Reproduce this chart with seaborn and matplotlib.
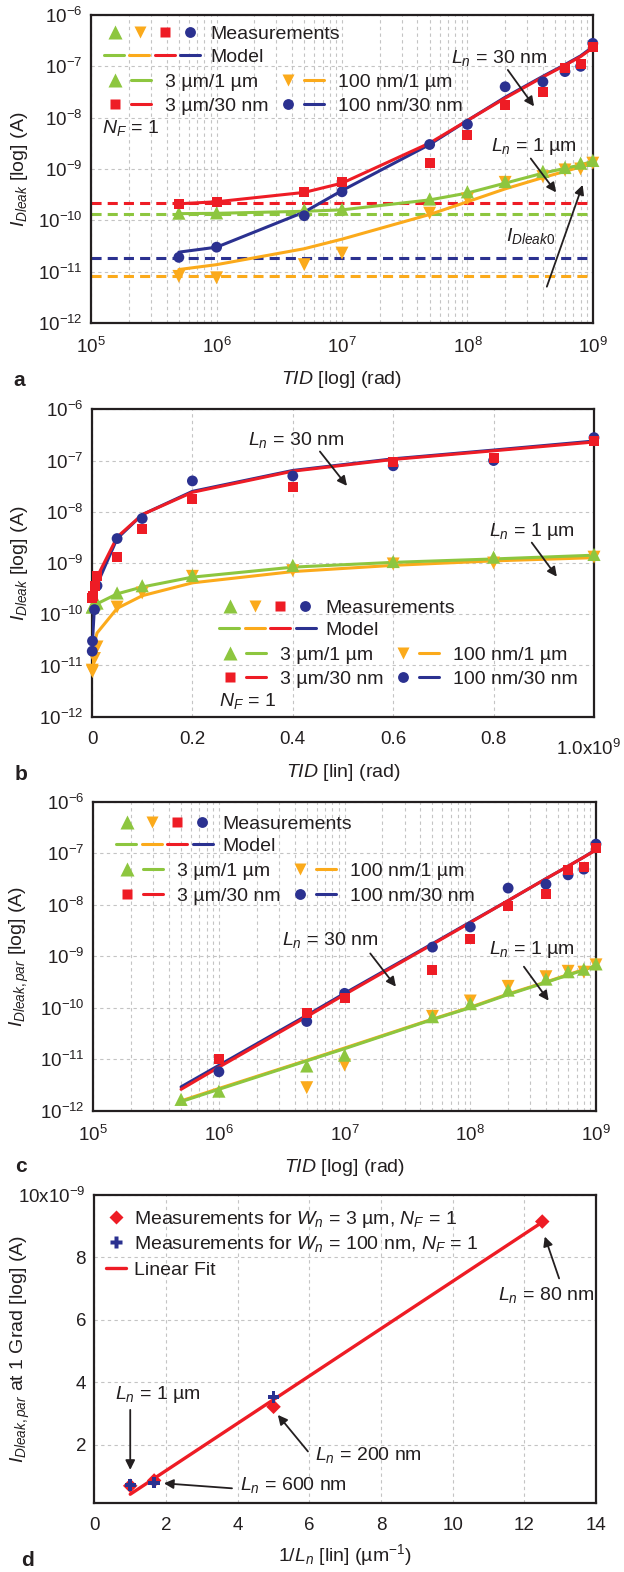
import numpy as np
import matplotlib
matplotlib.use("Agg")
import matplotlib.pyplot as plt
import seaborn as sns
from matplotlib.ticker import LogLocator, NullFormatter, NullLocator
from matplotlib.transforms import ScaledTranslation

# ---------------- data ----------------
tid = [5e5, 1e6, 5e6, 1e7, 5e7, 1e8, 2e8, 4e8, 6e8, 8e8, 1e9]

# panel a / b : I_Dleak measurements
meas_3u_1u = [1.38e-10, 1.4e-10, 1.6e-10, 1.65e-10, 2.6e-10, 3.6e-10, 5.7e-10, 9.0e-10, 1.07e-9, 1.3e-9, 1.47e-9]
meas_100n_1u = [8.1e-12, 7.6e-12, 1.37e-11, 2.3e-11, 1.38e-10, 2.6e-10, 5.5e-10, 7.1e-10, 9.6e-10, 1.0e-9, 1.3e-9]
meas_3u_30n = [2.1e-10, 2.3e-10, 3.6e-10, 5.5e-10, 1.3e-9, 4.6e-9, 1.8e-8, 3.1e-8, 9.2e-8, 1.1e-7, 2.4e-7]
meas_100n_30n = [1.9e-11, 3.0e-11, 1.23e-10, 3.6e-10, 3.0e-9, 7.4e-9, 4.0e-8, 5.0e-8, 7.9e-8, 1.0e-7, 2.8e-7]

# panel a / b : model
model_3u_1u = [1.35e-10, 1.37e-10, 1.5e-10, 1.6e-10, 2.5e-10, 3.4e-10, 5.3e-10, 8.3e-10, 1.03e-9, 1.2e-9, 1.42e-9]
model_100n_1u = [1.1e-11, 1.37e-11, 2.8e-11, 4.3e-11, 1.3e-10, 2.3e-10, 4.1e-10, 6.8e-10, 9.0e-10, 1.1e-9, 1.27e-9]
model_3u_30n = [2.1e-10, 2.3e-10, 3.5e-10, 5.3e-10, 3.2e-9, 8.8e-9, 2.4e-8, 6.2e-8, 1.05e-7, 1.55e-7, 2.3e-7]
model_100n_30n = [2.4e-11, 3.0e-11, 1.45e-10, 3.8e-10, 3.0e-9, 8.8e-9, 2.5e-8, 6.4e-8, 1.08e-7, 1.6e-7, 2.4e-7]

# I_Dleak0 levels
i0_3u_1u = 1.35e-10
i0_100n_1u = 8.3e-12
i0_3u_30n = 2.2e-10
i0_100n_30n = 1.85e-11

# panel c : I_Dleak,par
nan = np.nan
par_3u_1u = [1.66e-12, 2.4e-12, 7.4e-12, 1.2e-11, 6.7e-11, 1.2e-10, 2.2e-10, 3.6e-10, 5.0e-10, 5.6e-10, 7.1e-10]
par_100n_1u = [nan, nan, 2.8e-12, 7.7e-12, 6.8e-11, 1.35e-10, 2.6e-10, 4.0e-10, 5.1e-10, 4.9e-10, 6.8e-10]
par_3u_30n = [nan, 1.0e-11, 8.0e-11, 1.56e-10, 5.4e-10, 2.2e-9, 9.4e-9, 1.6e-8, 4.7e-8, 5.3e-8, 1.24e-7]
par_100n_30n = [nan, 5.7e-12, 5.4e-11, 1.9e-10, 1.5e-9, 3.7e-9, 2.1e-8, 2.5e-8, 3.8e-8, 4.9e-8, 1.5e-7]

par_model_3u_1u = [1.5e-12, 2.6e-12, 9.3e-12, 1.6e-11, 5.9e-11, 1.0e-10, 1.8e-10, 3.1e-10, 4.3e-10, 5.4e-10, 6.5e-10]
par_model_100n_1u = [1.55e-12, 2.7e-12, 9.5e-12, 1.65e-11, 6.0e-11, 1.02e-10, 1.85e-10, 3.15e-10, 4.4e-10, 5.5e-10, 6.6e-10]
par_model_3u_30n = [2.6e-12, 7.0e-12, 6.7e-11, 1.8e-10, 1.7e-9, 4.5e-9, 1.2e-8, 3.2e-8, 5.6e-8, 8.4e-8, 1.15e-7]
par_model_100n_30n = [2.9e-12, 7.6e-12, 7.1e-11, 1.9e-10, 1.75e-9, 4.6e-9, 1.2e-8, 3.2e-8, 5.6e-8, 8.4e-8, 1.18e-7]

# panel d
inv_L_3u = [1.0, 1.667, 5.0, 12.5]
d_meas_3u = [0.69e-9, 0.86e-9, 3.22e-9, 9.15e-9]
inv_L_100n = [1.0, 1.667, 5.0]
d_meas_100n = [0.72e-9, 0.79e-9, 3.53e-9]
fit_x = [1.0, 12.5]
fit_y = [0.42e-9, 9.13e-9]

series_labels = ["3 µm/1 µm", "100 nm/1 µm", "3 µm/30 nm", "100 nm/30 nm"]

# ---------------- style ----------------
sns.set_theme(style="white")
plt.rcParams.update({
    "font.family": ["Liberation Sans", "DejaVu Sans"],
    "mathtext.fontset": "custom",
    "mathtext.rm": "Liberation Sans",
    "mathtext.it": "Liberation Sans:italic",
    "mathtext.bf": "Liberation Sans:bold",
    "mathtext.sf": "Liberation Sans",
    "axes.unicode_minus": True,
})

GREEN = "#8DC63F"
ORANGE = "#FBAA1B"
RED = "#EE1C25"
BLUE = "#2B3190"
DARK = "#231F20"
GRID = "#C4C4C4"
FS = 14
TFS = 13.5
LW = 2.2

W, H = 624, 1572
fig = plt.figure(figsize=(W / 100, H / 100), dpi=100)


def add_ax(left, top, right, bottom):
    return fig.add_axes([left / W, 1 - bottom / H, (right - left) / W, (bottom - top) / H])


ax_a = add_ax(91.2, 15, 592.8, 323)
ax_b = add_ax(92, 409.3, 594, 716.7)
ax_c = add_ax(93.2, 801.7, 596, 1110.7)
ax_d = add_ax(94.4, 1195, 596, 1503.3)

ST_OR = (ORANGE, "v", 9.3)
ST_GR = (GREEN, "^", 9.5)
ST_BL = (BLUE, "o", 7.8)
ST_RD = (RED, "s", 7.2)
styles = [ST_OR, ST_GR, ST_BL, ST_RD]


def frame(ax):
    for s in ax.spines.values():
        s.set_visible(True)
        s.set_color(DARK)
        s.set_linewidth(1.6)
    ax.tick_params(which="both", length=0, labelsize=TFS, colors=DARK)
    ax.tick_params(axis="x", pad=10)
    ax.tick_params(axis="y", pad=6)


def plot_set(ax, meas_list, model_list):
    for (c, m, ms), model in zip(styles, model_list):
        sns.lineplot(x=tid, y=model, ax=ax, color=c, lw=LW, estimator=None,
                     sort=False, zorder=3)
    for (c, m, ms), meas in zip(styles, meas_list):
        sns.scatterplot(x=tid, y=meas, ax=ax, color=c, marker=m, s=ms ** 2,
                        edgecolor="none", linewidth=0, clip_on=False, zorder=5)


def draw_key(ax, x0, rows):
    """Legend key drawn in axes fraction; x0 first marker position, rows y fractions."""
    wpx = ax.get_position().width * W
    hpx = ax.get_position().height * H
    fx = lambda px: x0 + px / wpx
    base = 7.0 / hpx
    kw = dict(transform=ax.transAxes, clip_on=False, zorder=6)
    order = [ST_GR, ST_OR, ST_RD, ST_BL]
    y = rows[0]
    for (c, m, ms), off in zip(order, [0, 25, 50, 75]):
        ax.plot([fx(off)], [y], marker=m, ms=ms, color=c, mec="none", ls="none", **kw)
    ax.text(fx(95.5), y - base, "Measurements", fontsize=FS, color=DARK,
            ha="left", va="baseline", transform=ax.transAxes)
    y = rows[1]
    for (c, m, ms), cen in zip(order, [-1, 24.5, 50, 75.5]):
        ax.plot([fx(cen - 10), fx(cen + 10)], [y, y], color=c, lw=LW, **kw)
    ax.text(fx(95.5), y - base, "Model", fontsize=FS, color=DARK,
            ha="left", va="baseline", transform=ax.transAxes)
    grid = [(ST_GR, series_labels[0], 2, 0),
            (ST_OR, series_labels[1], 2, 173),
            (ST_RD, series_labels[2], 3, 0),
            (ST_BL, series_labels[3], 3, 173)]
    for (c, m, ms), lab, r, dx in grid:
        y = rows[r]
        ax.plot([fx(dx)], [y], marker=m, ms=ms, color=c, mec="none", ls="none", **kw)
        ax.plot([fx(dx + 16), fx(dx + 36)], [y, y], color=c, lw=LW, **kw)
        ax.text(fx(dx + 50), y - base, lab, fontsize=FS, color=DARK,
                ha="left", va="baseline", transform=ax.transAxes)


def arrow(ax, start, end):
    ax.annotate("", xy=end, xytext=start,
                arrowprops=dict(arrowstyle="-|>", color=DARK, lw=1.3,
                                mutation_scale=14, shrinkA=0, shrinkB=0),
                zorder=7)


def label(ax, x, y, s, **kw):
    ax.text(x, y, s, fontsize=FS, color=DARK, ha="center", va="center", zorder=7, **kw)


def setup_logy(ax):
    ax.set_yscale("log")
    ax.set_ylim(1e-12, 1e-6)
    ax.set_yticks([1e-12, 1e-11, 1e-10, 1e-9, 1e-8, 1e-7, 1e-6])
    ax.yaxis.set_minor_locator(NullLocator())
    ax.yaxis.set_minor_formatter(NullFormatter())


def setup_logx(ax):
    ax.set_xscale("log")
    ax.set_xlim(1e5, 1e9)
    ax.set_xticks([1e5, 1e6, 1e7, 1e8, 1e9])
    ax.xaxis.set_minor_locator(LogLocator(base=10, subs=np.arange(2, 10), numticks=20))
    ax.xaxis.set_minor_formatter(NullFormatter())


gkw = dict(color=GRID, linestyle=(0, (3, 3)), linewidth=0.8)

# ---------------- panel a ----------------
ax = ax_a
setup_logx(ax)
setup_logy(ax)
ax.grid(True, which="major", **gkw)
ax.grid(True, which="minor", axis="x", **gkw)
for lvl, c in zip([i0_100n_1u, i0_3u_1u, i0_100n_30n, i0_3u_30n], [ORANGE, GREEN, BLUE, RED]):
    ax.axhline(lvl, color=c, lw=LW, ls=(0, (3.3, 2.0)), zorder=2)
plot_set(ax, [meas_100n_1u, meas_3u_1u, meas_100n_30n, meas_3u_30n],
         [model_100n_1u, model_3u_1u, model_100n_30n, model_3u_30n])
ax.set_xlim(1e5, 1e9)
setup_logy(ax)
frame(ax)
draw_key(ax, 0.0474, [0.945, 0.871, 0.790, 0.711])
ax.text(0.0215, 0.640 - 7 / 308, "$N_F$ = 1", fontsize=FS, color=DARK, ha="left",
        va="baseline", transform=ax.transAxes)
label(ax, 1.8e8, 1.44e-7, "$L_n$ = 30 nm")
arrow(ax, (2.1e8, 8.5e-8), (3.4e8, 1.66e-8))
label(ax, 3.4e8, 2.75e-9, "$L_n$ = 1 µm")
arrow(ax, (3.2e8, 1.6e-9), (5.1e8, 3.5e-10))
label(ax, 3.2e8, 4.9e-11, "$I_{Dleak0}$")
arrow(ax, (4.3e8, 5.1e-12), (8.3e8, 4.9e-10))
ax.set_xlabel("$TID$ [log] (rad)", fontsize=FS, color=DARK)
ax.set_ylabel("$I_{Dleak}$ [log] (A)", fontsize=FS, color=DARK)

# ---------------- panel b ----------------
ax = ax_b
setup_logy(ax)
ax.grid(True, which="major", **gkw)
plot_set(ax, [meas_100n_1u, meas_3u_1u, meas_100n_30n, meas_3u_30n],
         [model_100n_1u, model_3u_1u, model_100n_30n, model_3u_30n])
ax.set_xlim(0, 1e9)
ax.set_xticks([0, 2e8, 4e8, 6e8, 8e8, 1e9])
ax.set_xticklabels(["0", "0.2", "0.4", "0.6", "0.8", "1.0x10$^9$"])
setup_logy(ax)
frame(ax)
tk = ax.xaxis.get_major_ticks()[-1]
tk.label1.set_transform(tk.label1.get_transform() +
                        ScaledTranslation(-0.05, -0.08, fig.dpi_scale_trans))
draw_key(ax, 0.275, [0.360, 0.289, 0.207, 0.129])
ax.text(0.253, 0.058 - 7 / 307.4, "$N_F$ = 1", fontsize=FS, color=DARK, ha="left",
        va="baseline", transform=ax.transAxes)
label(ax, 0.406e9, 2.5e-7, "$L_n$ = 30 nm")
arrow(ax, (0.454e9, 1.5e-7), (0.508e9, 3.2e-8))
label(ax, 0.876e9, 4.1e-9, "$L_n$ = 1 µm")
arrow(ax, (0.876e9, 2.5e-9), (0.926e9, 5.4e-10))
ax.set_xlabel("$TID$ [lin] (rad)", fontsize=FS, color=DARK)
ax.set_ylabel("$I_{Dleak}$ [log] (A)", fontsize=FS, color=DARK)

# ---------------- panel c ----------------
ax = ax_c
setup_logx(ax)
setup_logy(ax)
ax.grid(True, which="major", **gkw)
ax.grid(True, which="minor", axis="x", **gkw)
plot_set(ax, [par_100n_1u, par_3u_1u, par_100n_30n, par_3u_30n],
         [par_model_100n_1u, par_model_3u_1u, par_model_100n_30n, par_model_3u_30n])
ax.set_xlim(1e5, 1e9)
setup_logy(ax)
frame(ax)
draw_key(ax, 0.0676, [0.933, 0.862, 0.781, 0.701])
label(ax, 7.7e6, 2.06e-9, "$L_n$ = 30 nm")
arrow(ax, (1.6e7, 1.13e-9), (2.56e7, 2.56e-10))
label(ax, 3.1e8, 1.32e-9, "$L_n$ = 1 µm")
arrow(ax, (2.67e8, 6.25e-10), (4.2e8, 1.37e-10))
ax.set_xlabel("$TID$ [log] (rad)", fontsize=FS, color=DARK)
ax.set_ylabel("$I_{Dleak,par}$ [log] (A)", fontsize=FS, color=DARK)

# ---------------- panel d ----------------
ax = ax_d
ax.grid(True, which="major", **gkw)
sns.lineplot(x=fit_x, y=fit_y, ax=ax, color=RED, lw=2.4, estimator=None, sort=False, zorder=3)
sns.scatterplot(x=inv_L_3u, y=d_meas_3u, ax=ax, color=RED, marker="D", s=7.4 ** 2,
                edgecolor="none", linewidth=0, clip_on=False, zorder=5)
sns.scatterplot(x=inv_L_100n, y=d_meas_100n, ax=ax, color=BLUE, marker="P", s=8.2 ** 2,
                edgecolor="none", linewidth=0, clip_on=False, zorder=6)
ax.set_xlim(0, 14)
ax.set_ylim(0.13e-9, 10e-9)
ax.set_xticks(np.arange(0, 15, 2))
ax.set_xticklabels([str(v) for v in range(0, 15, 2)])
ax.set_yticks([2e-9, 4e-9, 6e-9, 8e-9, 10e-9])
ax.set_yticklabels(["2", "4", "6", "8", "10x10$^{-9}$"])
frame(ax)
wpx = ax.get_position().width * W
hpx = ax.get_position().height * H
kx = 0.043
ax.plot([kx], [0.928], marker="D", ms=7.4, color=RED, mec="none", transform=ax.transAxes, clip_on=False)
ax.plot([kx], [0.847], marker="P", ms=8.2, color=BLUE, mec="none", transform=ax.transAxes, clip_on=False)
ax.plot([kx - 10 / wpx, kx + 10 / wpx], [0.762, 0.762], color=RED, lw=2.4, transform=ax.transAxes, clip_on=False)
for yy, s in zip([0.928, 0.847, 0.762],
                 ["Measurements for $W_n$ = 3 µm, $N_F$ = 1",
                  "Measurements for $W_n$ = 100 nm, $N_F$ = 1",
                  "Linear Fit"]):
    ax.text(kx + 18 / wpx, yy - 7 / hpx, s, fontsize=FS, color=DARK, ha="left",
            va="baseline", transform=ax.transAxes)
label(ax, 1.78, 3.6e-9, "$L_n$ = 1 µm")
arrow(ax, (1.0, 3.12e-9), (1.0, 1.2e-9))
label(ax, 5.57, 0.72e-9, "$L_n$ = 600 nm")
arrow(ax, (3.84, 0.61e-9), (1.94, 0.77e-9))
label(ax, 7.64, 1.68e-9, "$L_n$ = 200 nm")
arrow(ax, (5.96, 1.79e-9), (5.12, 2.96e-9))
label(ax, 12.6, 6.8e-9, "$L_n$ = 80 nm")
arrow(ax, (12.97, 7.33e-9), (12.57, 8.67e-9))
ax.set_xlabel("1/$L_n$ [lin] (µm$^{-1}$)", fontsize=FS, color=DARK)
ax.set_ylabel("$I_{Dleak,par}$ at 1 Grad [log] (A)", fontsize=FS, color=DARK)

# label placement
for ax_, ylab_x, xlab_y in [(ax_a, -0.122, -0.198), (ax_b, -0.124, -0.196),
                            (ax_c, -0.124, -0.198), (ax_d, -0.124, -0.189)]:
    ax_.yaxis.set_label_coords(ylab_x, 0.5)
    ax_.xaxis.set_label_coords(0.5, xlab_y)
    ax_.xaxis.label.set_va("baseline")

for s, (x, y) in zip("abcd", [(19, 381), (21, 774), (21, 1166), (27, 1560)]):
    fig.text(x / W, 1 - y / H, s, fontsize=15, fontweight="bold", color=DARK,
             ha="center", va="center")

fig.savefig("out.png", dpi=100)
